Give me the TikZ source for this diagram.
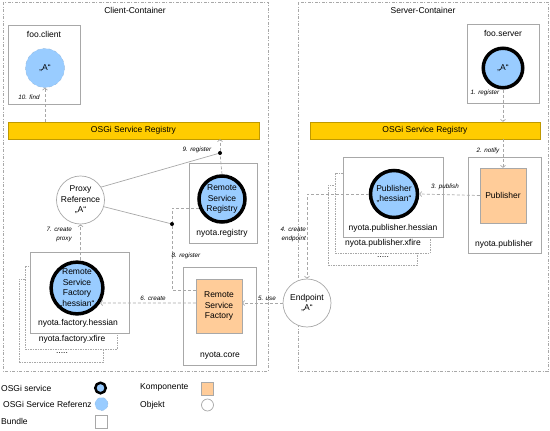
\documentclass[tikz,border=0pt]{standalone}
\usepackage{fontspec}
\setmainfont{Liberation Sans}
\usetikzlibrary{arrows.meta}
\definecolor{svcblue}{HTML}{99CCFF}
\definecolor{komporange}{HTML}{FFCC99}
\definecolor{reggold}{HTML}{FFCC00}
\definecolor{lgray}{HTML}{A8A8A8}

\begin{document}
\begin{tikzpicture}[x=1pt, y=-1pt,
    every node/.style={font=\fontsize{8.5}{10.5}\selectfont, inner sep=0pt},
    container/.style={draw=lgray, line width=0.7pt, dash pattern=on 3pt off 1.5pt on 1pt off 1.5pt},
    bundle/.style={draw=lgray, fill=white, line width=0.8pt},
    stackbox/.style={draw=lgray, fill=white, line width=0.7pt, dash pattern=on 1.5pt off 1pt},
    service/.style={circle, draw=black, line width=3.5pt, fill=svcblue, align=center},
    serviceref/.style={circle, draw=svcblue!75!gray, dashed, fill=svcblue, align=center},
    komp/.style={draw=lgray, fill=komporange, align=center},
    objekt/.style={circle, draw=lgray, fill=white, line width=0.7pt, align=center},
    registry/.style={draw=reggold!75!black, fill=reggold},
    flow/.style={draw=lgray, line width=0.7pt, dash pattern=on 3pt off 2pt, -{Straight Barb[length=2pt,width=5pt]}},
    dline/.style={draw=lgray, line width=0.7pt, dash pattern=on 3pt off 2pt},
    link/.style={draw=lgray, line width=0.7pt},
    dot/.style={circle, fill=black, minimum size=4pt},
    steplbl/.style={font=\itshape\fontsize{6.3}{8.5}\selectfont, align=right}]
\useasboundingbox (0,0) rectangle (550,431);

% Containers
\draw[container] (3,2) rectangle (268,371);
\draw[container] (298,2) rectangle (548,371);
\node (clienttitle) at (135,10) {Client-Container};
\node (servertitle) at (423,10) {Server-Container};

% Registries
\node[registry, minimum width=251pt, minimum height=17pt] (regleft) at (133.5,130.5) {OSGi Service Registry};
\node[registry, minimum width=230pt, minimum height=17pt] (regright) at (425,130.5) {OSGi Service Registry};

% Bundles
\node[bundle, minimum width=72pt, minimum height=79pt] (fooclient) at (44,64.5) {};
\node (fooclientlbl) at (44,34) {foo.client};
\node[bundle, minimum width=72pt, minimum height=79pt] (fooserver) at (503,63.5) {};
\node (fooserverlbl) at (503,33) {foo.server};
\node[bundle, minimum width=73pt, minimum height=96pt] (nyotapub) at (504.5,205) {};
\node (nyotapublbl) at (504,244) {nyota.publisher};
\node[stackbox, minimum width=89pt, minimum height=80pt] (pubdots) at (372.5,225) {};
\node[stackbox, minimum width=95pt, minimum height=80pt] (pubxfire) at (382.5,213) {};
\node[bundle, minimum width=100pt, minimum height=80pt] (pubhessbox) at (393,197) {};
\node (pubhesslbl) at (393,228) {nyota.publisher.hessian};
\node (pubxfirelbl) at (383,243) {nyota.publisher.xfire};
\node (pubdotslbl) at (383,257) {.....};
\node[bundle, minimum width=68pt, minimum height=80pt] (nyotareg) at (223,203) {};
\node (nyotareglbl) at (222,233) {nyota.registry};
\node[bundle, minimum width=73pt, minimum height=98pt] (nyotacore) at (219.5,316) {};
\node (nyotacorelbl) at (220,356) {nyota.core};
\node[stackbox, minimum width=84pt, minimum height=83pt] (facdots) at (61,320.5) {};
\node[stackbox, minimum width=92pt, minimum height=83pt] (facxfire) at (71,307.5) {};
\node[bundle, minimum width=99pt, minimum height=81pt] (fachessbox) at (79.5,292.5) {};
\node (fachesslbl) at (78,323) {nyota.factory.hessian};
\node (facxfirelbl) at (72,339) {nyota.factory.xfire};
\node (facdotslbl) at (62,353) {.....};

% Services, components, objects
\node[serviceref, minimum size=39pt] (aclient) at (45,68) {„A“};
\node[service, minimum size=39.5pt] (aserver) at (503,68) {„A“};
\node[komp, minimum width=46pt, minimum height=55pt] (publisher) at (503,195.5) {Publisher};
\node[service, minimum size=47pt] (pubhess) at (394,194) {Publisher\\„hessian“};
\node[objekt, minimum size=47pt] (proxy) at (80.5,200) {Proxy\\Reference\\„A“};
\node[service, minimum size=46pt] (rsr) at (222,199) {Remote\\Service\\Registry};
\node[komp, minimum width=46pt, minimum height=54pt] (rsf) at (219,306) {Remote\\Service\\Factory};
\node[service, minimum size=51pt] (fachess) at (77,288) {Remote\\Service\\Factory\\„hessian“};
\node[objekt, minimum size=48pt] (endpoint) at (307,303) {Endpoint\\„A“};
\node[dot] (dotnine) at (220,153) {};
\node[dot] (doteight) at (172,224) {};
\coordinate (eightbend) at (172,290);

% Connections
\draw[flow] (regleft.north -| aclient.south) -- (aclient.south);
\draw[flow] (aserver.south) -- (aserver.south |- regright.north);
\draw[flow] (regright.south -| publisher.north) -- (publisher.north);
\draw[flow] (publisher.west) -- (pubhess.east);
\draw[flow] (pubhess.west) -| (endpoint.north);
\draw[flow] (endpoint.west) -- (endpoint.west -| rsf.east);
\draw[flow] (rsf.west |- endpoint.west) -- (fachess.-33);
\draw[flow] (proxy.south |- fachess.north) -- (proxy.south);
\draw[link] (proxy.-16) -- (doteight);
\draw[dline] (rsr.201) -| (doteight) -- (eightbend) -- (eightbend -| rsf.west);
\draw[link] (proxy.32) -- (dotnine);
\draw[dline] (rsr.north) -- (dotnine);
\draw[flow] (dotnine) -- (dotnine |- regleft.south);

% Step labels
\node[steplbl] (findlbl) at (29,97) {10. find};
\node[steplbl] (regonelbl) at (485,93) {1. register};
\node[steplbl] (notifylbl) at (488,151) {2. notify};
\node[steplbl] (publishlbl) at (445,187) {3. publish};
\node[steplbl, anchor=east] (endpointlbl) at (306,234.5) {4. create\\endpoint};
\node[steplbl] (uselbl) at (267,298) {5. use};
\node[steplbl] (createlbl) at (153,298) {6. create};
\node[steplbl, anchor=east] (proxylbl) at (72,234.5) {7. create\\proxy};
\node[steplbl] (regeightlbl) at (186,256) {8. register};
\node[steplbl] (regninelbl) at (197,150) {9. register};

% Legend
\node[anchor=west] (lgservice) at (1,388) {OSGi service};
\node[service, line width=2.5pt, minimum size=10.5pt] (lgservicesym) at (100.5,388) {};
\node[anchor=west] (lgref) at (3,404) {OSGi Service Referenz};
\node[serviceref, minimum size=13pt] (lgrefsym) at (101.5,404) {};
\node[anchor=west] (lgbundle) at (1,421) {Bundle};
\node[bundle, minimum width=12pt, minimum height=13pt] (lgbundlesym) at (101.5,422) {};
\node[anchor=west] (lgkomp) at (140,387) {Komponente};
\node[komp, minimum width=12pt, minimum height=13pt] (lgkompsym) at (207.5,388.5) {};
\node[anchor=west] (lgobj) at (140,405) {Objekt};
\node[objekt, minimum size=12pt] (lgobjsym) at (207.5,405) {};
\end{tikzpicture}
\end{document}
